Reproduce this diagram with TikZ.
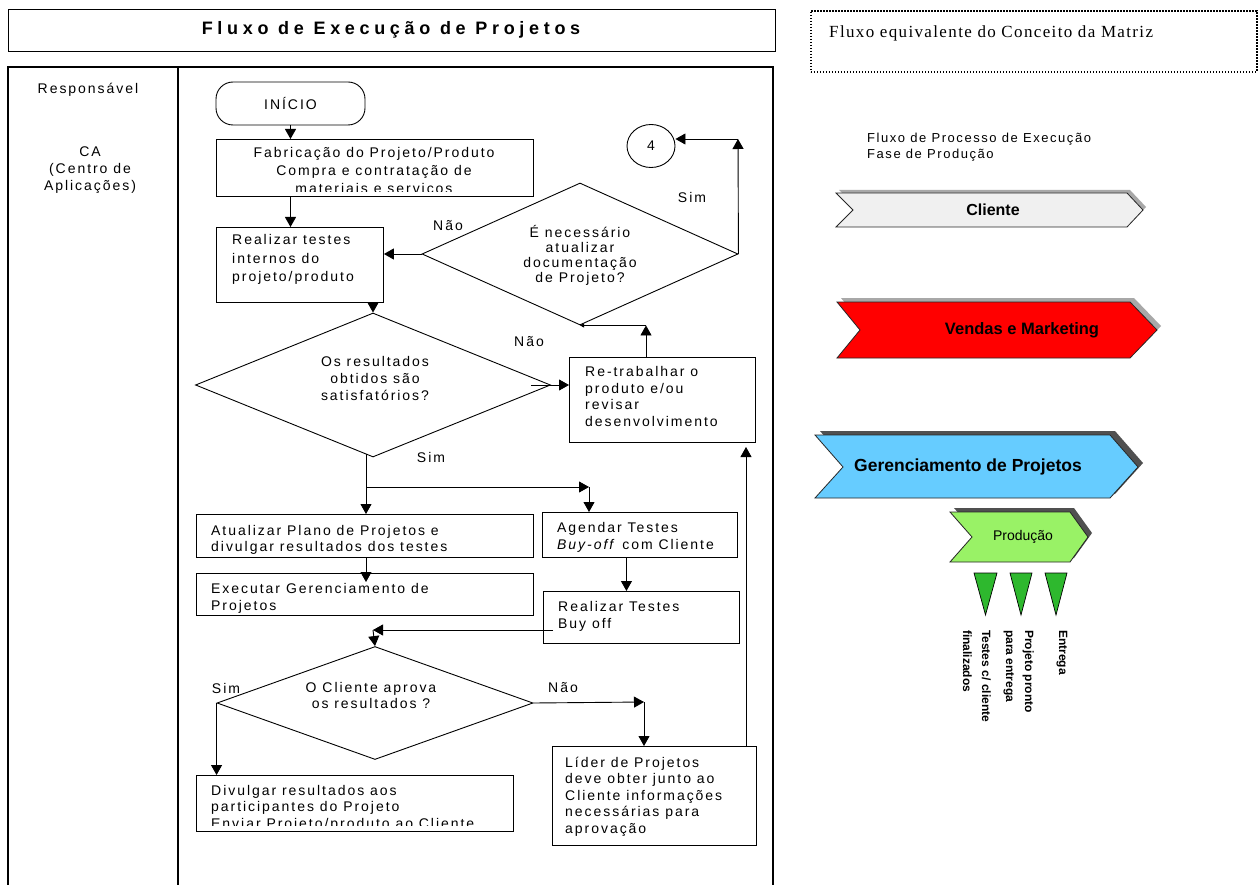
\documentclass[tikz,border=0pt]{standalone}
\usepackage{fontspec}
\setmainfont{Liberation Sans}
\newfontfamily\flowfont[LetterSpace=14]{Liberation Sans}
\newfontfamily\titlefont[LetterSpace=26]{Liberation Sans}
\newfontfamily\notefont[LetterSpace=8]{Liberation Serif}
\newfontfamily\capfont[LetterSpace=12]{Liberation Sans}
\usetikzlibrary{arrows.meta,shapes.geometric}
\definecolor{clientgray}{HTML}{F0F0F0}
\definecolor{salesred}{HTML}{FF0000}
\definecolor{pmblue}{HTML}{66CCFF}
\definecolor{prodgreen}{HTML}{99F266}
\definecolor{markgreen}{HTML}{2EB82E}
\definecolor{shadelight}{HTML}{A8A8A8}
\definecolor{shadedark}{HTML}{505050}
\newcommand{\fs}[2]{\flowfont\fontsize{#1}{#2}\selectfont}
\begin{document}
% multi-line text nodes are anchored on the baseline of their last line
\begin{tikzpicture}[x=1pt,y=-1pt,
  ln/.style={line width=0.9pt},
  arr/.style={ln,-{Triangle[length=10pt,width=11pt]}},
  box/.style={draw,line width=0.9pt,inner sep=0pt,anchor=north west},
  dia/.style={draw,diamond,line width=0.9pt,inner sep=0pt},
  ftxt/.style={font=\fs{14}{17},inner sep=0pt,align=left,anchor=base west},
  ctxt/.style={font=\fs{14}{17},inner sep=0pt,align=center,anchor=base},
  lbl/.style={font=\fs{14}{17},inner sep=0pt},
  chev/.style={draw=black!85,line width=0.8pt},
  milestone/.style={draw=black,line width=0.7pt,fill=markgreen},
  vlabel/.style={rotate=-90,anchor=base west,align=left,inner sep=0pt,
    font=\bfseries\fontsize{12}{19}\selectfont}]
\useasboundingbox (0,0) rectangle (1260,885);
\fill[white] (0,0) rectangle (1260,885);

% ---------- title and frame ----------
\node[box,line width=1.3pt,minimum width=767pt,minimum height=42pt] (title) at (8,9) {};
\node[font=\titlefont\bfseries\fontsize{18}{22}\selectfont,inner sep=0pt] (titletxt) at (391,30)
  {Fluxo de Execução de Projetos};
\draw[line width=1.2pt] (8,890) -- (8,67) -- (773,67) -- (773,890);
\draw[line width=2.6pt] (178,67) -- (178,890);

\node[lbl] (resp) at (88,90) {Responsável};
\node[lbl,align=center] (ca) at (90,170) {CA\\(Centro de\\Aplicações)};

% ---------- flowchart nodes ----------
\node[box,anchor=center,rounded corners=17pt,minimum width=149pt,minimum height=43pt,
  font=\fs{14}{17}] (ini) at (290.5,103.5) {INÍCIO};

\node[box,minimum width=317pt,minimum height=57pt] (fab) at (216,139) {};
\begin{scope}
  \clip (fab.north west) rectangle ([yshift=5pt]fab.south east);
  \node[ctxt,font=\fs{14}{18}] (fabt) at (374,193.5)
    {Fabricação do Projeto/Produto\\Compra e contratação de\\materiais e serviços};
\end{scope}

\node[box,minimum width=167pt,minimum height=75pt] (rti) at (216,227) {};
\node[ftxt,font=\fs{14}{18}] (rtit) at (232,281) {Realizar testes\\internos do\\projeto/produto};

\node[dia,minimum width=316pt,minimum height=142pt] (d2) at (580,254) {};
\node[ctxt,font=\fs{14}{15}] (d2t) at (580,283)
  {É necessário\\atualizar\\documentação\\de Projeto?};

\node[draw,ellipse,ln,minimum width=48pt,minimum height=43pt,inner sep=0pt,
  font=\fs{14}{17}] (c4) at (651,146) {4};

\node[box,minimum width=186pt,minimum height=85pt] (rt) at (569,357) {};
\node[ftxt,font=\fs{14}{16.5}] (rtt) at (585,426)
  {Re-trabalhar o\\produto e/ou\\revisar\\desenvolvimento};

\node[dia,minimum width=355pt,minimum height=144pt] (d1) at (373,385) {};
\node[ctxt] (d1t) at (375,400) {Os resultados\\obtidos são\\satisfatórios?};

\node[box,minimum width=337pt,minimum height=43pt] (atu) at (196,514) {};
\node[ftxt,font=\fs{14}{16}] (atut) at (211,551.5)
  {Atualizar Plano de Projetos e\\divulgar resultados dos testes};

\node[box,minimum width=337pt,minimum height=42pt] (exe) at (196,573) {};
\node[ftxt] (exet) at (211,610) {Executar Gerenciamento de\\Projetos};

\node[box,minimum width=195pt,minimum height=45pt] (ag) at (542,512) {};
\node[ftxt] (agt) at (557,549) {Agendar Testes\\\textit{Buy-off} com Cliente};

\node[box,minimum width=196pt,minimum height=52pt] (rtb) at (543,591) {};
\node[ftxt] (rtbt) at (558,628) {Realizar Testes\\Buy off};

\node[dia,minimum width=316pt,minimum height=113pt] (d3) at (375,703) {};
\node[ctxt,font=\fs{14}{16}] (d3t) at (371,708) {O Cliente aprova\\os resultados ?};

\node[box,minimum width=317pt,minimum height=56pt] (div) at (196,775) {};
\begin{scope}
  \clip (div.north west) rectangle ([yshift=6pt]div.south east);
  \node[ftxt,font=\fs{14}{16.5}] (divt) at (211,828)
    {Divulgar resultados aos\\participantes do Projeto\\Enviar Projeto/produto ao Cliente};
\end{scope}

\node[box,minimum width=204pt,minimum height=99pt] (lid) at (552,746) {};
\node[ftxt,font=\fs{14}{16.5}] (lidt) at (565,833)
  {Líder de Projetos\\deve obter junto ao\\Cliente informações\\necessárias para\\aprovação};

% ---------- branch labels ----------
\node[lbl] (d2no) at (448,226) {Não};
\node[lbl] (d2yes) at (692,197) {Sim};
\node[lbl] (d1no) at (529,342) {Não};
\node[lbl] (d1yes) at (431,457) {Sim};
\node[lbl] (d3yes) at (226,688) {Sim};
\node[lbl] (d3no) at (563,688) {Não};

% ---------- bend points ----------
\coordinate (d2up) at (738,139);
\path (d2.south) ++(66,0) coordinate (rtup);
\path (d1.south) ++(-7,-3) coordinate (d1b);
\coordinate (j1) at (366,487);
\coordinate (agc) at (589,487);
\coordinate (j2) at (373,630);
\path (rtb.west |- j2) ++(10,0) coordinate (rtbl);
\coordinate (j3) at (644,702);
\coordinate (lidup) at (746,746);
\coordinate (rtin) at (746,447);

% ---------- connectors ----------
\draw[arr] (ini.south) -- (ini.south |- fab.north);
\draw[arr] (fab.south -| ini.south) -- (rti.north -| ini.south);
\draw[arr] (d2.west) -- (d2.west -| rti.east);
\draw[arr] (d2.east) -- (d2up);
\draw[arr] (d2up) -- (d2up -| c4.east);
\draw[arr] (rti.south -| d1.north) -- (d1.north);
\draw[arr] ([xshift=-20pt]d1.east) -- (d1.east -| rt.west);
\draw[arr] (rt.north -| rtup) -- (rtup);
\draw[ln,-{Triangle[length=4pt,width=4pt]}] (rtup) -- (d2.south);
\draw[ln] (d1b) -- (j1);
\draw[arr] (j1) -- (j1 |- atu.north);
\draw[arr] (j1) -- (agc);
\draw[arr] (agc) -- (agc |- ag.north);
\draw[arr] (atu.south -| j1) -- ([yshift=-9pt]exe.north -| j1);
\draw[arr] ([xshift=-13.5pt]ag.south) -- ([xshift=-13.5pt]ag.south |- rtb.north);
\draw[arr] (rtbl) -- (j2);
\draw[arr] (j2) -- (d3.north);
\draw[arr] (d3.west) -- (d3.west |- div.north);
\draw[arr] (d3.east) -- (j3);
\draw[arr] (j3) -- (j3 |- lid.north);
\draw[arr] (lidup) -- (rtin);

% ---------- equivalent matrix flow ----------
\node[box,line width=1.6pt,dash pattern=on 1.6pt off 1.4pt,minimum width=446pt,
  minimum height=61pt] (mx) at (810,10) {};
\node[font=\notefont\fontsize{17}{19}\selectfont,anchor=west,inner sep=0pt] (mxt) at (829,33)
  {Fluxo equivalente do Conceito da Matriz};

\node[font=\capfont\fontsize{13}{16}\selectfont,align=left,anchor=base west,inner sep=0pt]
  (cap) at (867,159) {Fluxo de Processo de Execução\\Fase de Produção};

% Cliente
\fill[shadelight,shift={(3,-3)}] (836,193) -- (1127,193) -- (1143,210) -- (1127,227)
  -- (836,227) -- (853,210) -- cycle;
\draw[chev,fill=clientgray] (836,193) -- (1127,193) -- (1143,210) -- (1127,227)
  -- (836,227) -- (853,210) -- cycle;
\node[font=\bfseries\fontsize{16}{18}\selectfont,inner sep=0pt] (cli) at (993,210) {Cliente};

% Vendas e Marketing
\fill[shadelight,shift={(4,-4)}] (837,302) -- (1130,302) -- (1157,330) -- (1130,358)
  -- (837,358) -- (860,330) -- cycle;
\draw[chev,fill=salesred] (837,302) -- (1130,302) -- (1157,330) -- (1130,358)
  -- (837,358) -- (860,330) -- cycle;
\node[font=\bfseries\fontsize{16.5}{18}\selectfont,inner sep=0pt] (vm) at (1022,330)
  {Vendas e Marketing};

% Gerenciamento de Projetos
\fill[shadedark,shift={(5,-4)}] (815,435) -- (1110,435) -- (1138,467) -- (1110,498)
  -- (815,498) -- (843,467) -- cycle;
\draw[chev,fill=pmblue] (815,435) -- (1110,435) -- (1138,467) -- (1110,498)
  -- (815,498) -- (843,467) -- cycle;
\node[font=\bfseries\fontsize{17.5}{18}\selectfont,inner sep=0pt] (gp) at (968,467)
  {Gerenciamento de Projetos};

% Produção
\fill[shadedark,shift={(4,-4)}] (950,512) -- (1070,512) -- (1088,537) -- (1070,562)
  -- (950,562) -- (972,537) -- cycle;
\draw[chev,fill=prodgreen] (950,512) -- (1070,512) -- (1088,537) -- (1070,562)
  -- (950,562) -- (972,537) -- cycle;
\node[font=\fontsize{14}{16}\selectfont,inner sep=0pt] (pr) at (1023,537) {Produção};

% milestones
\draw[milestone] (974,573) -- (997,573) -- (985.5,615) -- cycle;
\draw[milestone] (1010,573) -- (1032,573) -- (1021,615) -- cycle;
\draw[milestone] (1045,573) -- (1067,573) -- (1056,615) -- cycle;
\node[vlabel] (m1) at (963,630) {Testes c/ cliente\\finalizados};
\node[vlabel] (m2) at (1006,630) {Projeto pronto\\para entrega};
\node[vlabel] (m3) at (1059,630) {Entrega};
\end{tikzpicture}
\end{document}
